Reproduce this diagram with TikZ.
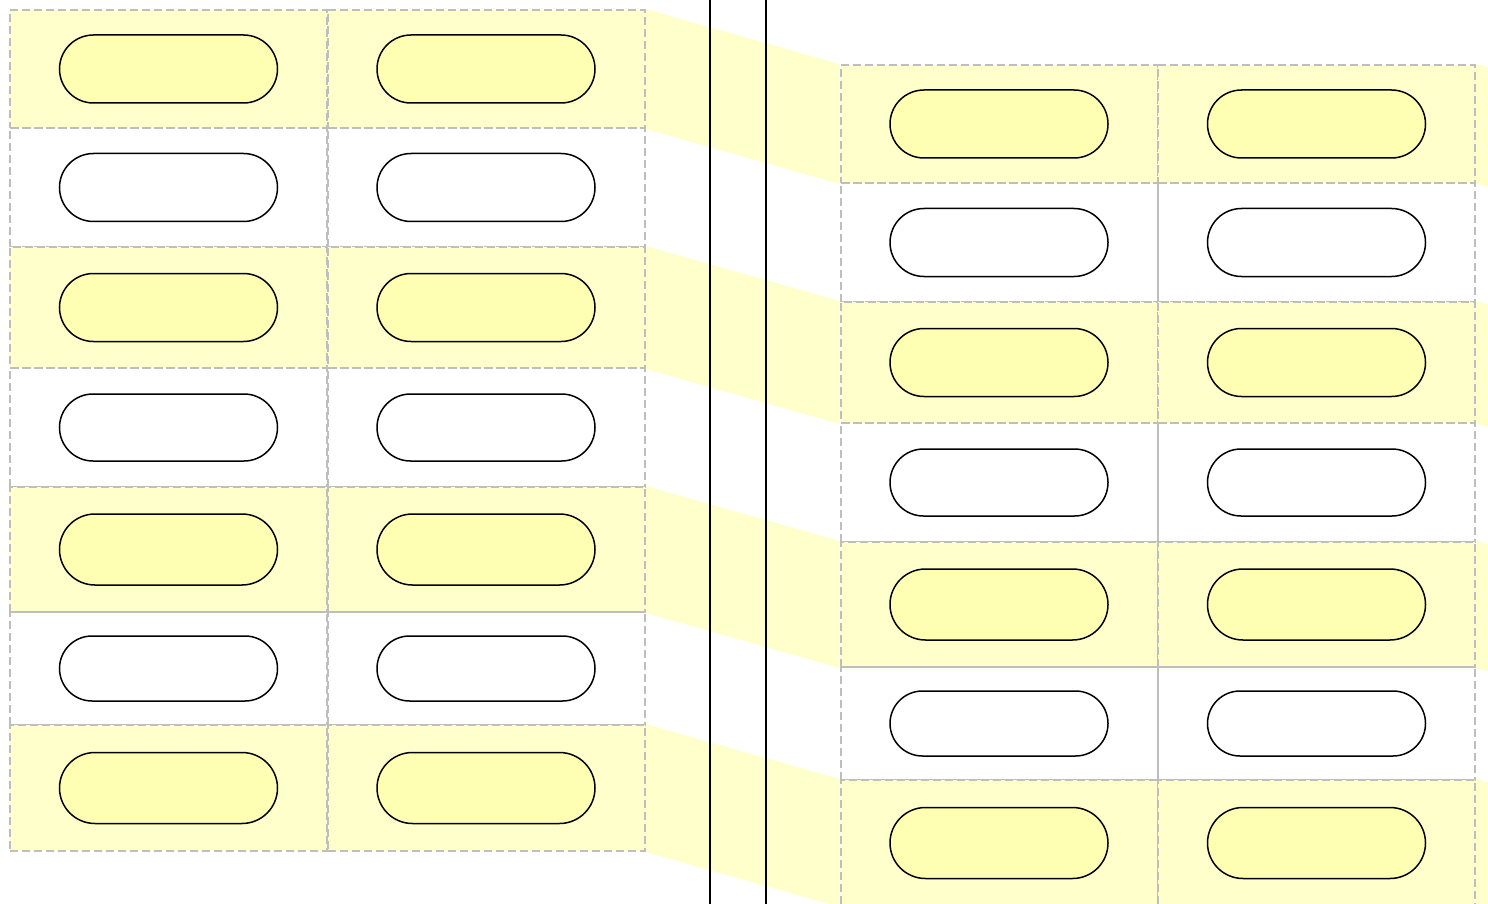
\documentclass[tikz,border=0pt]{standalone}
\usepackage{tikz}
\usepackage{xcolor}
\usetikzlibrary{shapes.misc,backgrounds}
\definecolor{bandyellow}{HTML}{FFFFCC}
\definecolor{pillyellow}{HTML}{FFFFB4}
\definecolor{cellgray}{HTML}{BEBEBE}

\begin{document}
\begin{tikzpicture}[x=1pt,y=-1pt,
  cell/.style={draw=cellgray,line width=2pt,dash pattern=on 8pt off 4pt,inner sep=0pt,minimum width=317pt},
  hot/.style={fill=bandyellow},
  pill/.style={draw,line width=1.5pt,rounded rectangle,inner sep=0pt,minimum width=218pt,fill=white},
  warm/.style={fill=pillyellow}]
\useasboundingbox (0,0) rectangle (1488,904);
\clip (0,0) rectangle (1488,904);

\node[cell,hot,minimum height=118pt] (la1) at (168.5,69) {};
\node[cell,hot,minimum height=118pt] (lb1) at (486,69) {};
\node[cell,minimum height=119pt] (la2) at (168.5,187.5) {};
\node[cell,minimum height=119pt] (lb2) at (486,187.5) {};
\node[cell,hot,minimum height=121pt] (la3) at (168.5,307.5) {};
\node[cell,hot,minimum height=121pt] (lb3) at (486,307.5) {};
\node[cell,minimum height=119pt] (la4) at (168.5,427.5) {};
\node[cell,minimum height=119pt] (lb4) at (486,427.5) {};
\node[cell,hot,minimum height=125pt] (la5) at (168.5,549.5) {};
\node[cell,hot,minimum height=125pt] (lb5) at (486,549.5) {};
\node[cell,minimum height=113pt] (la6) at (168.5,668.5) {};
\node[cell,minimum height=113pt] (lb6) at (486,668.5) {};
\node[cell,hot,minimum height=126pt] (la7) at (168.5,788) {};
\node[cell,hot,minimum height=126pt] (lb7) at (486,788) {};

\node[cell,hot,minimum height=118pt] (ra1) at (999,124) {};
\node[cell,hot,minimum height=118pt] (rb1) at (1316.5,124) {};
\node[cell,minimum height=119pt] (ra2) at (999,242.5) {};
\node[cell,minimum height=119pt] (rb2) at (1316.5,242.5) {};
\node[cell,hot,minimum height=121pt] (ra3) at (999,362.5) {};
\node[cell,hot,minimum height=121pt] (rb3) at (1316.5,362.5) {};
\node[cell,minimum height=119pt] (ra4) at (999,482.5) {};
\node[cell,minimum height=119pt] (rb4) at (1316.5,482.5) {};
\node[cell,hot,minimum height=125pt] (ra5) at (999,604.5) {};
\node[cell,hot,minimum height=125pt] (rb5) at (1316.5,604.5) {};
\node[cell,minimum height=113pt] (ra6) at (999,723.5) {};
\node[cell,minimum height=113pt] (rb6) at (1316.5,723.5) {};
\node[cell,hot,minimum height=126pt] (ra7) at (999,843) {};
\node[cell,hot,minimum height=126pt] (rb7) at (1316.5,843) {};

\node[pill,warm,minimum height=68pt] (pla1) at (la1) {};
\node[pill,warm,minimum height=68pt] (plb1) at (lb1) {};
\node[pill,minimum height=68pt] (pla2) at (la2) {};
\node[pill,minimum height=68pt] (plb2) at (lb2) {};
\node[pill,warm,minimum height=68pt] (pla3) at (la3) {};
\node[pill,warm,minimum height=68pt] (plb3) at (lb3) {};
\node[pill,minimum height=67pt] (pla4) at (la4) {};
\node[pill,minimum height=67pt] (plb4) at (lb4) {};
\node[pill,warm,minimum height=71pt] (pla5) at (la5) {};
\node[pill,warm,minimum height=71pt] (plb5) at (lb5) {};
\node[pill,minimum height=65pt] (pla6) at (la6) {};
\node[pill,minimum height=65pt] (plb6) at (lb6) {};
\node[pill,warm,minimum height=71pt] (pla7) at (la7) {};
\node[pill,warm,minimum height=71pt] (plb7) at (lb7) {};

\node[pill,warm,minimum height=68pt] (pra1) at (ra1) {};
\node[pill,warm,minimum height=68pt] (prb1) at (rb1) {};
\node[pill,minimum height=68pt] (pra2) at (ra2) {};
\node[pill,minimum height=68pt] (prb2) at (rb2) {};
\node[pill,warm,minimum height=68pt] (pra3) at (ra3) {};
\node[pill,warm,minimum height=68pt] (prb3) at (rb3) {};
\node[pill,minimum height=67pt] (pra4) at (ra4) {};
\node[pill,minimum height=67pt] (prb4) at (rb4) {};
\node[pill,warm,minimum height=71pt] (pra5) at (ra5) {};
\node[pill,warm,minimum height=71pt] (prb5) at (rb5) {};
\node[pill,minimum height=65pt] (pra6) at (ra6) {};
\node[pill,minimum height=65pt] (prb6) at (rb6) {};
\node[pill,warm,minimum height=71pt] (pra7) at (ra7) {};
\node[pill,warm,minimum height=71pt] (prb7) at (rb7) {};

\begin{scope}[on background layer]
\fill[bandyellow] (lb1.north east) -- (ra1.north west) -- (ra1.south west) -- (lb1.south east) -- cycle;
\fill[bandyellow] (lb3.north east) -- (ra3.north west) -- (ra3.south west) -- (lb3.south east) -- cycle;
\fill[bandyellow] (lb5.north east) -- (ra5.north west) -- (ra5.south west) -- (lb5.south east) -- cycle;
\fill[bandyellow] (lb7.north east) -- (ra7.north west) -- (ra7.south west) -- (lb7.south east) -- cycle;
\fill[bandyellow] (rb1.north east) -- ++(195,55) -- ++(0,118) -- (rb1.south east) -- cycle;
\fill[bandyellow] (rb3.north east) -- ++(195,55) -- ++(0,121) -- (rb3.south east) -- cycle;
\fill[bandyellow] (rb5.north east) -- ++(195,55) -- ++(0,125) -- (rb5.south east) -- cycle;
\fill[bandyellow] (rb7.north east) -- ++(195,55) -- ++(0,126) -- (rb7.south east) -- cycle;
\end{scope}

\draw[line width=2.2pt] (710,0) -- (710,904);
\draw[line width=2.2pt] (766,0) -- (766,904);
\end{tikzpicture}
\end{document}
